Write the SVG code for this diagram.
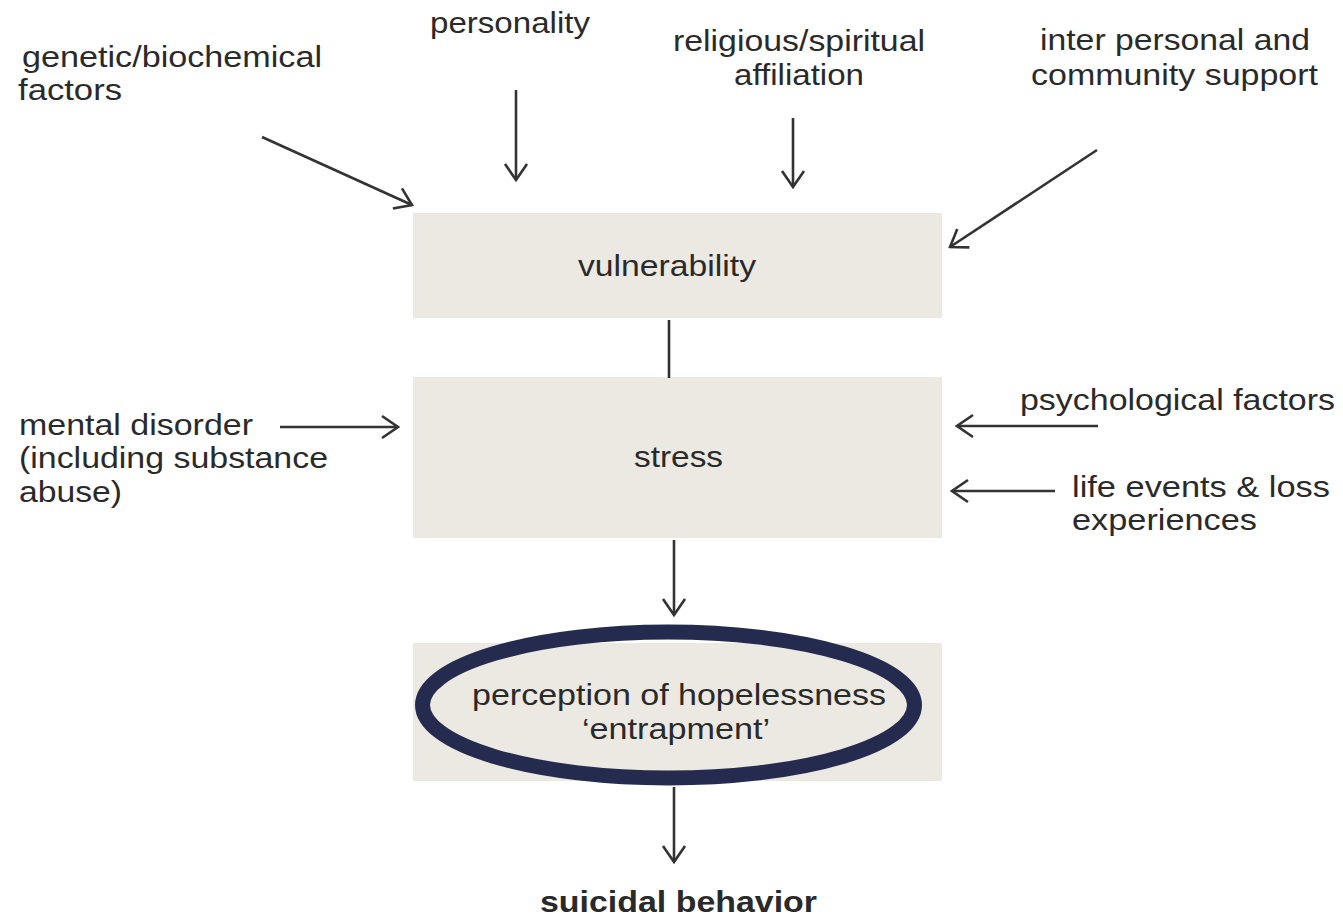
<svg xmlns="http://www.w3.org/2000/svg" width="1343" height="918" viewBox="0 0 1343 918">
<style>
text{font-family:"Liberation Sans",Arial,sans-serif;font-size:30px;fill:#2a2a2a}
.b{font-weight:bold}
.box{fill:#ECE9E2}
.c{stroke:#333;stroke-width:2.6;fill:none;marker-end:url(#ah)}
.p{stroke:#333;stroke-width:2.6;fill:none}
</style>
<defs>
<marker id="ah" viewBox="0 0 20 26" refX="18" refY="13" markerWidth="20" markerHeight="26" markerUnits="userSpaceOnUse" orient="auto">
<path d="M2,2 L18,13 L2,24" fill="none" stroke="#333" stroke-width="2.6"/>
</marker>
</defs>
<rect width="1343" height="918" fill="#fff"/>
<g id="labels">
<text x="430" y="33" textLength="160" lengthAdjust="spacingAndGlyphs">personality</text>
<text x="22" y="67" textLength="300" lengthAdjust="spacingAndGlyphs">genetic/biochemical</text>
<text x="18" y="100" textLength="104" lengthAdjust="spacingAndGlyphs">factors</text>
<text x="673" y="51" textLength="252" lengthAdjust="spacingAndGlyphs">religious/spiritual</text>
<text x="734" y="85" textLength="130" lengthAdjust="spacingAndGlyphs">affiliation</text>
<text x="1040" y="50" textLength="270" lengthAdjust="spacingAndGlyphs">inter personal and</text>
<text x="1031" y="85" textLength="287" lengthAdjust="spacingAndGlyphs">community support</text>
<text x="19" y="435" textLength="234" lengthAdjust="spacingAndGlyphs">mental disorder</text>
<text x="19" y="468" textLength="309" lengthAdjust="spacingAndGlyphs">(including substance</text>
<text x="19" y="502" textLength="103" lengthAdjust="spacingAndGlyphs">abuse)</text>
<text x="1020" y="410" textLength="315" lengthAdjust="spacingAndGlyphs">psychological factors</text>
<text x="1072" y="497" textLength="258" lengthAdjust="spacingAndGlyphs">life events &amp; loss</text>
<text x="1072" y="530" textLength="185" lengthAdjust="spacingAndGlyphs">experiences</text>
</g>
<g id="vulnerability">
<rect class="box" x="413" y="213" width="529" height="105"/>
<text x="578" y="276" textLength="178" lengthAdjust="spacingAndGlyphs">vulnerability</text>
</g>
<g id="stress">
<rect class="box" x="413" y="377" width="529" height="161"/>
<text x="634" y="467" textLength="89" lengthAdjust="spacingAndGlyphs">stress</text>
</g>
<g id="hopelessness">
<rect class="box" x="413" y="643" width="529" height="138"/>
<ellipse cx="668.5" cy="705" rx="246" ry="73" fill="none" stroke="#252B4F" stroke-width="15"/>
<text x="472" y="705" textLength="414" lengthAdjust="spacingAndGlyphs">perception of hopelessness</text>
<text x="582" y="739" textLength="188" lengthAdjust="spacingAndGlyphs">‘entrapment’</text>
</g>
<g id="suicidal">
<text class="b" x="540" y="912" textLength="277" lengthAdjust="spacingAndGlyphs">suicidal behavior</text>
</g>
<g id="connectors">
<path class="c" d="M262,137 L412,205"/>
<path class="c" d="M516,90 L516,180"/>
<path class="c" d="M793,118 L793,187"/>
<path class="c" d="M1097,150 L950,247"/>
<path class="p" d="M669,320 L669,378"/>
<path class="c" d="M280,427 L398,427"/>
<path class="c" d="M1098,426 L957,426"/>
<path class="c" d="M1055,491 L952,491"/>
<path class="c" d="M674,540 L674,615"/>
<path class="c" d="M674,787 L674,862"/>
</g>
</svg>
